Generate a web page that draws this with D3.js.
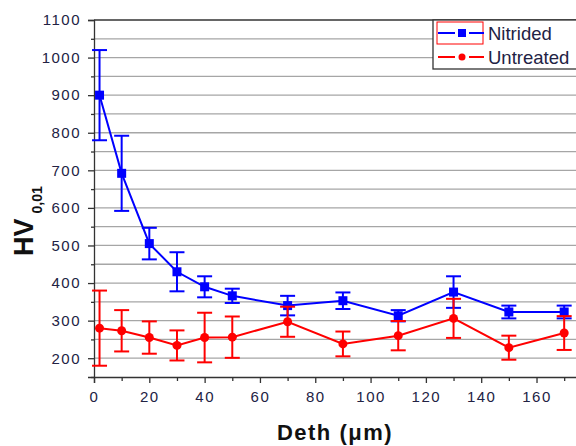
<html>
<head>
<style>
  body { margin: 0; background: #fff; }
  svg { display: block; font-family: "Liberation Sans", Arial, sans-serif; }
</style>
</head>
<body>
<script src="https://d3js.org/d3.v7.min.js"></script>
<svg width="576" height="446"></svg>
<script>
  // depth positions (um)
  var depth = [2, 10, 20, 30, 40, 50, 70, 90, 110, 130, 150, 170];
  // Nitrided
  var nitrided    = [900, 692, 505, 430, 390, 366, 340, 353, 313, 376, 323, 323];
  var nitridedErr = [120, 100, 42, 52, 28, 19, 26, 22, 15, 42, 17, 17];
  // Untreated
  var untreated    = [280, 273, 255, 234, 255, 256, 297, 238, 260, 306, 228, 267];
  var untreatedErr = [100, 55, 43, 40, 66, 55, 40, 33, 39, 52, 32, 45];

  var xTicks = [0, 20, 40, 60, 80, 100, 120, 140, 160];
  var yTicks = [200, 300, 400, 500, 600, 700, 800, 900, 1000, 1100];

  var pLeft = 94, pTop = 20, pRight = 578, pBottom = 377;
  var svg = d3.select("svg");

  var x = d3.scaleLinear().domain([0, 175]).range([pLeft, pRight]);
  var y = d3.scaleLinear().domain([150, 1100]).range([pBottom, pTop]);

  // grid lines every 50
  var grid = d3.range(200, 1100, 50);
  svg.append("g").selectAll("line").data(grid).enter().append("line")
    .attr("x1", pLeft).attr("x2", pRight)
    .attr("y1", d => y(d)).attr("y2", d => y(d))
    .attr("stroke", "#a6a6a6").attr("stroke-width", 1.3);

  // top frame
  svg.append("line").attr("x1", pLeft).attr("x2", pRight)
    .attr("y1", y(1100)).attr("y2", y(1100))
    .attr("stroke", "#333").attr("stroke-width", 1.3);

  var labelColor = "#222244";
  var fontFam = "'Liberation Sans', Arial, sans-serif";

  // y axis
  var yAxis = svg.append("g").attr("transform", "translate(" + pLeft + ",0)")
    .call(d3.axisLeft(y).tickValues(yTicks).tickSize(6).tickPadding(7).tickFormat(d3.format("d")));
  svg.append("g").attr("transform", "translate(" + pLeft + ",0)")
    .call(d3.axisLeft(y).tickValues(d3.range(150, 1100, 100)).tickSize(3).tickFormat(""))
    .select(".domain").remove();

  // x axis
  var xAxis = svg.append("g").attr("transform", "translate(0," + pBottom + ")")
    .call(d3.axisBottom(x).tickValues(xTicks).tickSize(6).tickPadding(8).tickFormat(d3.format("d")));
  svg.append("g").attr("transform", "translate(0," + pBottom + ")")
    .call(d3.axisBottom(x).tickValues(d3.range(10, 175, 20)).tickSize(4).tickFormat(""))
    .select(".domain").remove();

  [yAxis, xAxis].forEach(function(a) {
    a.attr("font-size", 15).attr("font-family", fontFam);
    a.selectAll(".tick text").attr("fill", labelColor)
      .attr("font-size", 15).attr("letter-spacing", "1.5px")
      .style("font-size", "15px").style("letter-spacing", "1.5px");
  });

  svg.selectAll(".domain").attr("stroke", "#333").attr("stroke-width", 1.3);
  svg.selectAll(".tick line").attr("stroke", "#333").attr("stroke-width", 1.3);

  // series
  function drawSeries(vals, errs, color, shape) {
    var g = svg.append("g");
    var line = d3.line().x((d, i) => x(depth[i])).y(d => y(d));
    g.append("path").datum(vals).attr("d", line)
      .attr("fill", "none").attr("stroke", color).attr("stroke-width", 2);

    var eb = g.selectAll(".eb").data(vals).enter().append("g");
    eb.append("line")
      .attr("x1", (d, i) => x(depth[i])).attr("x2", (d, i) => x(depth[i]))
      .attr("y1", (d, i) => y(d + errs[i])).attr("y2", (d, i) => y(d - errs[i]))
      .attr("stroke", color).attr("stroke-width", 2);
    [1, -1].forEach(function(s) {
      eb.append("line")
        .attr("x1", (d, i) => x(depth[i]) - 7.5).attr("x2", (d, i) => x(depth[i]) + 7.5)
        .attr("y1", (d, i) => y(d + s * errs[i])).attr("y2", (d, i) => y(d + s * errs[i]))
        .attr("stroke", color).attr("stroke-width", 2);
    });

    if (shape == "square") {
      g.selectAll(".m").data(vals).enter().append("rect")
        .attr("x", (d, i) => x(depth[i]) - 4.5).attr("y", d => y(d) - 4.5)
        .attr("width", 9).attr("height", 9).attr("fill", color);
    } else {
      g.selectAll(".m").data(vals).enter().append("circle")
        .attr("cx", (d, i) => x(depth[i])).attr("cy", d => y(d))
        .attr("r", 4.5).attr("fill", color);
    }
  }
  drawSeries(nitrided, nitridedErr, "#0000ff", "square");
  drawSeries(untreated, untreatedErr, "#ff0000", "circle");

  // legend
  var lg = svg.append("g");
  lg.append("rect").attr("x", 433).attr("y", 20).attr("width", 150).attr("height", 49)
    .attr("fill", "#fff").attr("stroke", "#333").attr("stroke-width", 1.3);
  lg.append("rect").attr("x", 437).attr("y", 22).attr("width", 46).attr("height", 22)
    .attr("fill", "none").attr("stroke", "#ff0000").attr("stroke-width", 1);
  var items = [
    { name: "Nitrided", color: "#0000ff", shape: "square", y: 33 },
    { name: "Untreated", color: "#ff0000", shape: "circle", y: 57 }
  ];
  items.forEach(function(it) {
    lg.append("line").attr("x1", 438).attr("x2", 455).attr("y1", it.y).attr("y2", it.y)
      .attr("stroke", it.color).attr("stroke-width", 2);
    lg.append("line").attr("x1", 469).attr("x2", 484).attr("y1", it.y).attr("y2", it.y)
      .attr("stroke", it.color).attr("stroke-width", 2);
    if (it.shape == "square") {
      lg.append("rect").attr("x", 458).attr("y", it.y - 4).attr("width", 8).attr("height", 8)
        .attr("fill", it.color);
    } else {
      lg.append("circle").attr("cx", 462).attr("cy", it.y).attr("r", 3.5).attr("fill", it.color);
    }
    lg.append("text").attr("x", 488).attr("y", it.y + 6.5).text(it.name)
      .attr("fill", labelColor).style("font-size", "18.5px");
  });

  // axis titles
  svg.append("text").attr("x", 335).attr("y", 440).attr("text-anchor", "middle")
    .style("font-size", "22px").style("font-weight", "bold").style("letter-spacing", "1.5px")
    .attr("fill", "#111").text("Deth (\u03bcm)");

  var yt = svg.append("text").attr("transform", "translate(33,256) rotate(-90)")
    .style("font-weight", "bold").attr("fill", "#111");
  yt.append("tspan").style("font-size", "27px").text("HV");
  yt.append("tspan").attr("dx", "5").attr("dy", "9").style("font-size", "14px").text("0,01");
</script>
</body>
</html>
